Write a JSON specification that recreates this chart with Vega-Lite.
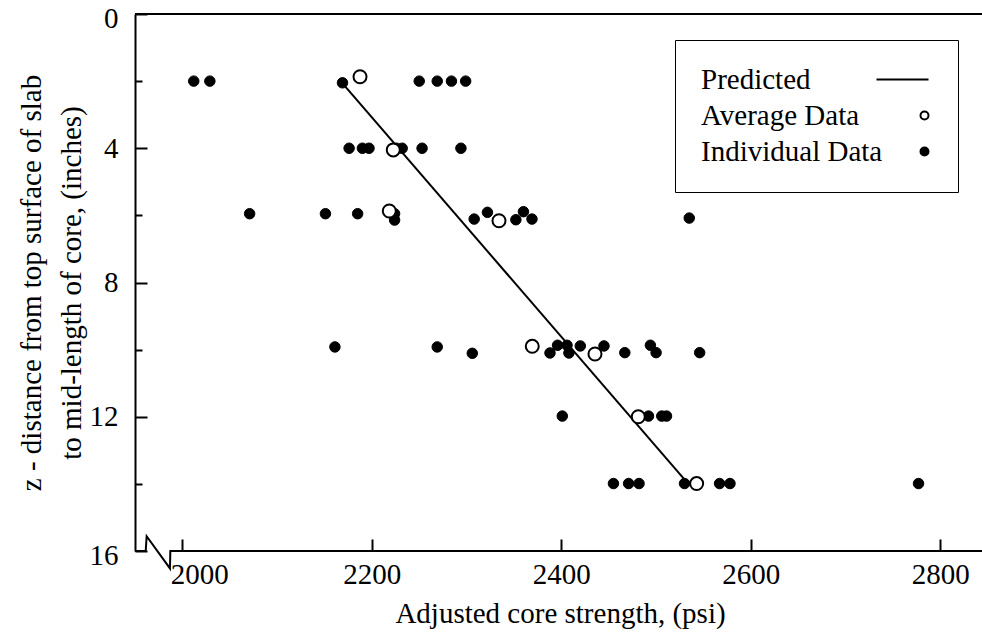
{
  "$schema": "https://vega.github.io/schema/vega-lite/v6.json",
  "autosize": {"type": "none"},
  "padding": {"left": 135, "top": 14, "right": 0, "bottom": 81},
  "width": 847,
  "height": 537,
  "background": "white",
  "config": {
    "view": {"stroke": null},
    "font": "Liberation Serif",
    "axis": {
      "labelFont": "Liberation Serif", "labelFontSize": 29, "labelColor": "black",
      "titleFont": "Liberation Serif", "titleFontSize": 29, "titleFontWeight": "normal", "titleColor": "black",
      "domainColor": "black", "tickColor": "black", "domainWidth": 2, "tickWidth": 2, "grid": false
    },
    "legend": {
      "padding": 25, "strokeColor": "black", "fillColor": "white", "cornerRadius": 0,
      "labelFont": "Liberation Serif", "labelFontSize": 29, "labelColor": "black", "labelLimit": 0,
      "symbolOffset": 210, "labelOffset": -238, "rowPadding": 6,
      "symbolSize": 64, "symbolStrokeColor": "black", "symbolStrokeWidth": 2
    }
  },
  "encoding": {
    "x": {
      "field": "psi", "type": "quantitative",
      "scale": {"domain": [1950, 2844], "nice": false, "zero": false},
      "axis": {
        "values": [2000, 2200, 2400, 2600, 2800], "format": "d",
        "domain": false, "tickSize": -12, "labelPadding": 44,
        "labelOffset": {"condition": {"test": "datum.value == 2000", "value": 17}, "value": 0},
        "labelBaseline": "alphabetic", "labelFlush": false, "labelOverlap": false,
        "title": "Adjusted core strength, (psi)",
        "titleBaseline": "alphabetic", "titleX": 425, "titleY": 71
      }
    },
    "y": {
      "field": "z", "type": "quantitative",
      "scale": {"domain": [0, 16], "reverse": true, "nice": false, "zero": false},
      "axis": {
        "values": [0, 2, 4, 6, 8, 10, 12, 14, 16],
        "labelExpr": "datum.value % 4 == 0 ? datum.label : ''",
        "tickSize": {"condition": {"test": "datum.value % 4 == 0", "value": -12}, "value": -7},
        "labelOffset": {"condition": {"test": "datum.value == 0 || datum.value == 16", "value": 4}, "value": 0},
        "labelPadding": 29, "labelFlush": false, "labelOverlap": false,
        "title": ["z - distance from top surface of slab", "to mid-length of core, (inches)"],
        "titleBaseline": "alphabetic", "titleAlign": "center", "titleAngle": -90,
        "titleX": -95, "titleY": 268.5, "titleLineHeight": 40
      }
    }
  },
  "layer": [
    {
      "data": {"values": [{"psi": 1950, "psi2": 2844, "z": 0}]},
      "mark": {"type": "rule", "color": "black", "strokeWidth": 2},
      "encoding": {"x2": {"field": "psi2"}}
    },
    {
      "data": {"values": [
        {"psi": 1950, "z": 16, "o": 1},
        {"psi": 1961.3, "z": 16, "o": 2},
        {"psi": 1962.3, "z": 15.56, "o": 3},
        {"psi": 1986.9, "z": 16.52, "o": 4},
        {"psi": 1987.3, "z": 16, "o": 5},
        {"psi": 2844, "z": 16, "o": 6}
      ]},
      "mark": {"type": "line", "color": "black", "strokeWidth": 2, "clip": false},
      "encoding": {"order": {"field": "o", "type": "quantitative"}}
    },
    {
      "data": {"values": [{"psi": 2167, "z": 2}, {"psi": 2534, "z": 14}]},
      "mark": {"type": "line", "color": "black", "strokeWidth": 2}
    },
    {
      "data": {"values": [
        {"psi": 2012, "z": 2.0, "series": "Individual Data"},
        {"psi": 2029, "z": 2.0, "series": "Individual Data"},
        {"psi": 2169, "z": 2.05, "series": "Individual Data"},
        {"psi": 2250, "z": 2.0, "series": "Individual Data"},
        {"psi": 2269, "z": 2.0, "series": "Individual Data"},
        {"psi": 2284, "z": 2.0, "series": "Individual Data"},
        {"psi": 2299, "z": 2.0, "series": "Individual Data"},
        {"psi": 2176, "z": 4.0, "series": "Individual Data"},
        {"psi": 2190, "z": 4.0, "series": "Individual Data"},
        {"psi": 2197, "z": 4.0, "series": "Individual Data"},
        {"psi": 2226, "z": 4.0, "series": "Individual Data"},
        {"psi": 2232, "z": 4.0, "series": "Individual Data"},
        {"psi": 2253, "z": 4.0, "series": "Individual Data"},
        {"psi": 2294, "z": 4.0, "series": "Individual Data"},
        {"psi": 2071, "z": 5.95, "series": "Individual Data"},
        {"psi": 2151, "z": 5.95, "series": "Individual Data"},
        {"psi": 2185, "z": 5.95, "series": "Individual Data"},
        {"psi": 2224, "z": 5.95, "series": "Individual Data"},
        {"psi": 2224, "z": 6.14, "series": "Individual Data"},
        {"psi": 2308, "z": 6.11, "series": "Individual Data"},
        {"psi": 2322, "z": 5.91, "series": "Individual Data"},
        {"psi": 2352, "z": 6.13, "series": "Individual Data"},
        {"psi": 2360, "z": 5.89, "series": "Individual Data"},
        {"psi": 2369, "z": 6.11, "series": "Individual Data"},
        {"psi": 2535, "z": 6.08, "series": "Individual Data"},
        {"psi": 2161, "z": 9.92, "series": "Individual Data"},
        {"psi": 2269, "z": 9.92, "series": "Individual Data"},
        {"psi": 2306, "z": 10.11, "series": "Individual Data"},
        {"psi": 2388, "z": 10.1, "series": "Individual Data"},
        {"psi": 2396, "z": 9.87, "series": "Individual Data"},
        {"psi": 2406, "z": 9.87, "series": "Individual Data"},
        {"psi": 2408, "z": 10.1, "series": "Individual Data"},
        {"psi": 2420, "z": 9.89, "series": "Individual Data"},
        {"psi": 2445, "z": 9.89, "series": "Individual Data"},
        {"psi": 2467, "z": 10.09, "series": "Individual Data"},
        {"psi": 2494, "z": 9.87, "series": "Individual Data"},
        {"psi": 2500, "z": 10.09, "series": "Individual Data"},
        {"psi": 2546, "z": 10.09, "series": "Individual Data"},
        {"psi": 2401, "z": 11.98, "series": "Individual Data"},
        {"psi": 2492, "z": 11.98, "series": "Individual Data"},
        {"psi": 2506, "z": 11.98, "series": "Individual Data"},
        {"psi": 2511, "z": 11.98, "series": "Individual Data"},
        {"psi": 2455, "z": 13.99, "series": "Individual Data"},
        {"psi": 2471, "z": 13.99, "series": "Individual Data"},
        {"psi": 2482, "z": 13.99, "series": "Individual Data"},
        {"psi": 2530, "z": 13.99, "series": "Individual Data"},
        {"psi": 2567, "z": 13.99, "series": "Individual Data"},
        {"psi": 2578, "z": 13.99, "series": "Individual Data"},
        {"psi": 2777, "z": 13.99, "series": "Individual Data"}
      ]},
      "mark": {"type": "point", "filled": true, "size": 110, "strokeWidth": 1, "opacity": 1},
      "encoding": {
        "shape": {"field": "series", "type": "nominal",
          "scale": {"domain": ["Predicted", "Average Data", "Individual Data"], "range": ["M-12,0H1", "circle", "circle"]},
          "legend": {"title": null, "orient": "none", "legendX": 540, "legendY": 26,
            "encode": {"legend": {"update": {"strokeWidth": {"value": 2}}}}}},
        "fill": {"field": "series", "type": "nominal",
          "scale": {"domain": ["Predicted", "Average Data", "Individual Data"], "range": ["transparent", "white", "black"]},
          "legend": {"title": null, "orient": "none", "legendX": 540, "legendY": 26}},
        "stroke": {"field": "series", "type": "nominal",
          "scale": {"domain": ["Predicted", "Average Data", "Individual Data"], "range": ["black", "black", "black"]},
          "legend": {"title": null, "orient": "none", "legendX": 540, "legendY": 26}}
      }
    },
    {
      "data": {"values": [
        {"psi": 2187.5, "z": 1.87, "series": "Average Data"},
        {"psi": 2222.6, "z": 4.05, "series": "Average Data"},
        {"psi": 2218.4, "z": 5.87, "series": "Average Data"},
        {"psi": 2334.2, "z": 6.16, "series": "Average Data"},
        {"psi": 2369.3, "z": 9.9, "series": "Average Data"},
        {"psi": 2435.5, "z": 10.13, "series": "Average Data"},
        {"psi": 2481.2, "z": 12.0, "series": "Average Data"},
        {"psi": 2542.8, "z": 13.99, "series": "Average Data"}
      ]},
      "mark": {"type": "point", "filled": true, "size": 169, "strokeWidth": 2, "opacity": 1},
      "encoding": {
        "shape": {"field": "series", "type": "nominal",
          "scale": {"domain": ["Predicted", "Average Data", "Individual Data"], "range": ["M-12,0H1", "circle", "circle"]},
          "legend": {"title": null, "orient": "none", "legendX": 540, "legendY": 26,
            "encode": {"legend": {"update": {"strokeWidth": {"value": 2}}}}}},
        "fill": {"field": "series", "type": "nominal",
          "scale": {"domain": ["Predicted", "Average Data", "Individual Data"], "range": ["transparent", "white", "black"]},
          "legend": {"title": null, "orient": "none", "legendX": 540, "legendY": 26}},
        "stroke": {"field": "series", "type": "nominal",
          "scale": {"domain": ["Predicted", "Average Data", "Individual Data"], "range": ["black", "black", "black"]},
          "legend": {"title": null, "orient": "none", "legendX": 540, "legendY": 26}}
      }
    }
  ]
}
